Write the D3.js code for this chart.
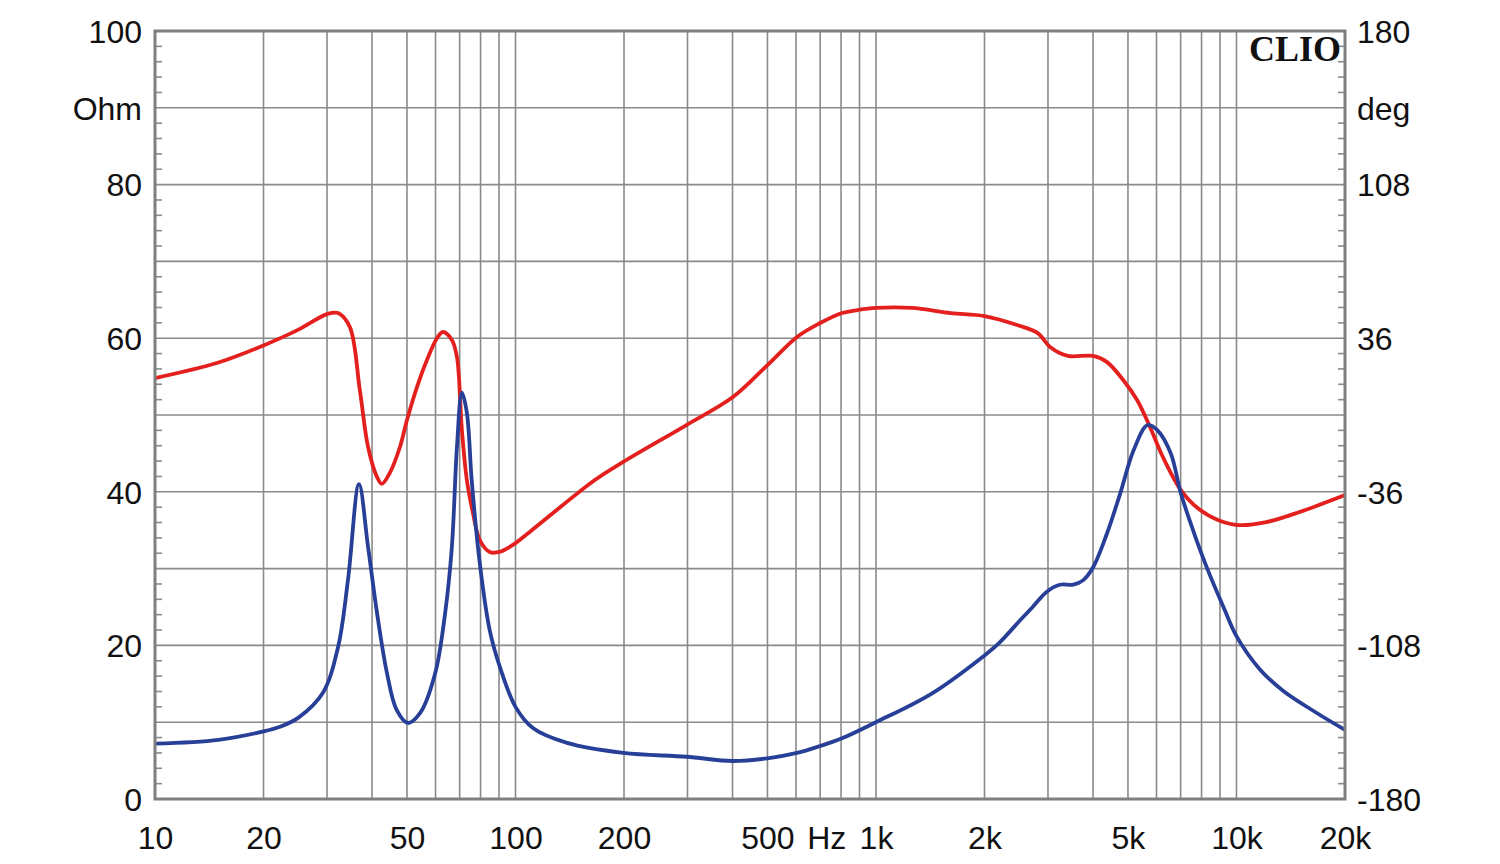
<!DOCTYPE html>
<html><head><meta charset="utf-8">
<script src="https://cdn.jsdelivr.net/npm/d3@7"></script>
<style>
html,body{margin:0;padding:0;background:#fff;}
</style></head>
<body>
<svg id="chart" width="1500" height="864"></svg>
<script>
// ---- Data ----
const impFreq = [10,15,20,22.2,25,29.2,32.2,34.3,36.8,39.0,41.3,44.0,46.8,50.3,54.4,59.9,63.8,66.6,68.8,71.0,73.3,75.6,79.6,84.8,90.5,100,112,139,199,298,401,500,604,700,805,1000,1435,2000,2194,2514,2720,2978,3238,3524,3760,4006,4375,4760,5183,5667,6040,6572,7010,7630,8330,9240,10000,11600,13460,16700,20000];
const impOhm  = [7.2,7.7,8.8,9.4,10.6,13.8,19.8,28.5,41.0,32.8,24.2,16.4,11.6,9.9,11.2,16.4,24.2,32.8,45.8,52.9,50.3,41.5,30.7,22.0,17.2,12.0,9.2,7.3,6.0,5.5,4.95,5.3,6.0,6.9,7.9,10.0,13.8,18.7,20.3,23.3,25.0,27.0,27.9,27.9,28.5,30.2,34.6,39.8,45.4,48.7,48.0,45.0,39.8,34.6,29.8,24.8,21.2,16.9,14.1,11.2,9.0];

const phFreq = [10,15,20,25,30,32.2,34.7,37.0,39.0,41.3,42.6,44.8,47.8,50.0,53.3,56.8,60.6,62.9,66.6,68.8,71.0,73.3,76.2,79.6,84.8,90.2,98.3,109.5,166,199,298,401,500,604,700,805,890,1000,1256,1613,2000,2464,2810,3040,3404,4006,4375,4850,5300,5755,6250,7010,7800,8880,10160,12100,14950,20000];
const phDeg  = [17.3,24.6,32.6,40.0,47.3,47.8,41.3,11.7,-15.0,-29.1,-32.3,-27.2,-15.0,-2.3,13.1,25.8,36.1,38.9,35.2,27.2,-7.0,-30.5,-45.9,-58.6,-64.2,-64.2,-60.9,-54.8,-30.5,-22.0,-4.7,8.4,23.4,36.6,43.1,47.8,49.2,50.2,50.2,47.8,46.4,42.2,38.4,31.9,27.7,27.7,24.8,16.4,7.0,-5.6,-19.7,-35.2,-43.6,-49.2,-51.6,-50.2,-45.5,-37.5];

const xTickVals   = [10,20,50,100,200,500,1000,2000,5000,10000,20000];
const xTickLabels = ["10","20","50","100","200","500","1k","2k","5k","10k","20k"];
const ohmTickVals   = [0,20,40,60,80,90,100];
const ohmTickLabels = ["0","20","40","60","80","Ohm","100"];
const degTickVals   = [-180,-108,-36,36,108,144,180];
const degTickLabels = ["-180","-108","-36","36","108","deg","180"];

// ---- Layout ----
const L = 155, R = 1345, T = 31, B = 799;
const svg = d3.select("#chart");
const x = d3.scaleLog().domain([10,20000]).range([L,R]);
const yO = d3.scaleLinear().domain([0,100]).range([B,T]);
const yD = d3.scaleLinear().domain([-180,180]).range([B,T]);

const gridColor = "#8a8a8a";
const sansFont = "'Liberation Sans', Arial, sans-serif";
// vertical grid: 1..9 x decades
const vGrid = [];
[10,100,1000,10000].forEach(d => { for (let m=1;m<=9;m++){ const f=d*m; if (f>10 && f<20000) vGrid.push(f);} });
svg.append("g").selectAll("line").data(vGrid).join("line")
  .attr("x1",d=>x(d)).attr("x2",d=>x(d)).attr("y1",T).attr("y2",B)
  .attr("stroke",gridColor).attr("stroke-width",1.6);
// horizontal grid every 10 Ohm
svg.append("g").selectAll("line").data(d3.range(10,100,10)).join("line")
  .attr("x1",L).attr("x2",R).attr("y1",d=>yO(d)).attr("y2",d=>yO(d))
  .attr("stroke",gridColor).attr("stroke-width",1.6);
// minor ticks (every 2 Ohm), inward on both sides
const minor = d3.range(2,100,2).filter(d=>d%10!==0);
svg.append("g").selectAll("line").data(minor).join("line")
  .attr("x1",L).attr("x2",L+7).attr("y1",d=>yO(d)).attr("y2",d=>yO(d))
  .attr("stroke",gridColor).attr("stroke-width",1.6);
svg.append("g").selectAll("line").data(minor).join("line")
  .attr("x1",R-7).attr("x2",R).attr("y1",d=>yO(d)).attr("y2",d=>yO(d))
  .attr("stroke",gridColor).attr("stroke-width",1.6);

// ---- Curves ----
const lineImp = d3.line().x((d,i)=>x(impFreq[i])).y(d=>yO(d)).curve(d3.curveCatmullRom.alpha(0.5));
const linePh  = d3.line().x((d,i)=>x(phFreq[i])).y(d=>yD(d)).curve(d3.curveCatmullRom.alpha(0.5));
svg.append("path").attr("d",linePh(phDeg)).attr("fill","none")
  .attr("stroke","#e3201e").attr("stroke-width",3.8).attr("stroke-linejoin","round");
svg.append("path").attr("d",lineImp(impOhm)).attr("fill","none")
  .attr("stroke","#283f98").attr("stroke-width",3.8).attr("stroke-linejoin","round");

// frame
svg.append("rect").attr("x",L).attr("y",T).attr("width",R-L).attr("height",B-T)
  .attr("fill","none").attr("stroke","#7f7f7f").attr("stroke-width",3);

// ---- Axes (labels) ----
const fs = "32px";
const ax = svg.append("g").attr("transform",`translate(0,${B})`)
  .call(d3.axisBottom(x).tickValues(xTickVals).tickSize(0).tickPadding(0)
        .tickFormat((d,i)=>xTickLabels[i]));
ax.select(".domain").remove();
ax.selectAll("text").attr("dy",null).attr("y",50)
  .style("font-size",fs).style("font-family",sansFont).style("fill","#111");
svg.append("text").attr("x",x(730)).attr("y",B+50).attr("text-anchor","middle")
  .style("font-size",fs).style("font-family",sansFont).style("fill","#111").text("Hz");

const al = svg.append("g").attr("transform",`translate(${L},0)`)
  .call(d3.axisLeft(yO).tickValues(ohmTickVals).tickSize(0).tickPadding(13)
        .tickFormat((d,i)=>ohmTickLabels[i]));
al.select(".domain").remove();
al.selectAll("text").attr("dy","0.35em")
  .style("font-size",fs).style("font-family",sansFont).style("fill","#111");

const ar = svg.append("g").attr("transform",`translate(${R},0)`)
  .call(d3.axisRight(yD).tickValues(degTickVals).tickSize(0).tickPadding(12)
        .tickFormat((d,i)=>degTickLabels[i]));
ar.select(".domain").remove();
ar.selectAll("text").attr("dy","0.35em")
  .style("font-size",fs).style("font-family",sansFont).style("fill","#111");

// CLIO logo
svg.append("text").attr("x",R-4).attr("y",61).attr("text-anchor","end")
  .style("font-family","'Liberation Serif', 'DejaVu Serif', serif").style("font-weight","bold")
  .style("font-size","36px").style("fill","#111").text("CLIO");
</script>
</body></html>
